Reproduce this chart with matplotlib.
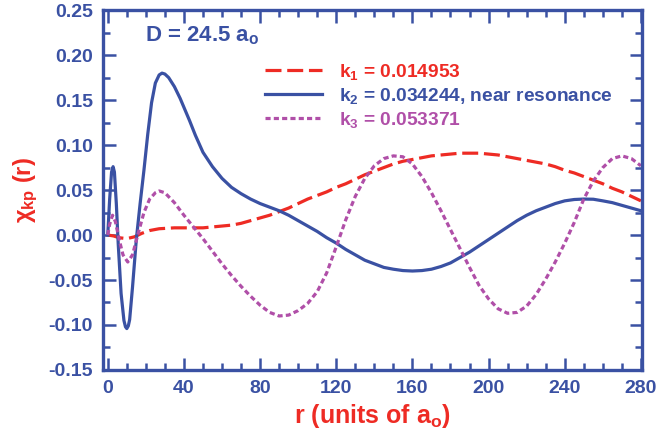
import numpy as np
import matplotlib
matplotlib.use("Agg")
import matplotlib.pyplot as plt
from matplotlib.ticker import MultipleLocator

plt.rcParams['font.family'] = ['Liberation Sans', 'DejaVu Sans']
plt.rcParams['font.weight'] = 'bold'
plt.rcParams['mathtext.fontset'] = 'custom'
plt.rcParams['mathtext.rm'] = 'Liberation Sans:bold'
plt.rcParams['mathtext.bf'] = 'Liberation Sans:bold'
plt.rcParams['mathtext.it'] = 'Liberation Sans:bold'

# values
r_k1 = [0, 3, 6, 10, 14, 18, 22, 27, 35, 45, 50, 55, 60, 65, 70, 75, 80, 85, 90, 95,
        100, 105, 110, 115, 120, 125, 130, 135, 140, 145, 150, 155, 160, 165, 170, 175,
        180, 185, 190, 195, 200, 205, 210, 215, 220, 225, 230, 235, 240, 245, 250, 255,
        260, 265, 270, 275, 280]
chi_k1 = [0, -0.001, -0.003, -0.004, -0.002, 0.002, 0.005, 0.007, 0.008, 0.008, 0.008,
          0.009, 0.010, 0.011, 0.013, 0.016, 0.019, 0.022, 0.026, 0.030, 0.035, 0.040,
          0.044, 0.048, 0.053, 0.057, 0.062, 0.067, 0.071, 0.075, 0.079, 0.082, 0.084,
          0.086, 0.088, 0.089, 0.090, 0.091, 0.091, 0.091, 0.090, 0.089, 0.087, 0.085,
          0.083, 0.081, 0.079, 0.076, 0.072, 0.069, 0.065, 0.061, 0.057, 0.052, 0.048,
          0.043, 0.038]

r_k2 = [0, 1, 2, 2.8, 3.5, 4.5, 5.5, 7, 8.5, 9.3, 10, 10.8, 11.5, 13, 15, 17, 19, 21,
        23, 25, 27, 28.5, 30, 32, 35, 38, 40, 43, 46, 50, 55, 60, 65, 70, 75, 80, 85,
        90, 95, 100, 105, 110, 115, 120, 125, 130, 135, 140, 145, 150, 155, 160, 165,
        170, 175, 180, 185, 190, 195, 200, 205, 210, 215, 220, 225, 230, 235, 240, 245,
        250, 255, 260, 265, 270, 275, 280]
chi_k2 = [0, 0.040, 0.070, 0.076, 0.070, 0.035, -0.010, -0.065, -0.095, -0.102, -0.104,
          -0.101, -0.094, -0.058, -0.005, 0.035, 0.072, 0.112, 0.147, 0.169, 0.178,
          0.180, 0.179, 0.175, 0.165, 0.152, 0.142, 0.127, 0.111, 0.092, 0.076, 0.063,
          0.053, 0.046, 0.040, 0.035, 0.031, 0.027, 0.022, 0.016, 0.010, 0.004, -0.003,
          -0.009, -0.016, -0.022, -0.028, -0.032, -0.036, -0.038, -0.0395, -0.040,
          -0.0395, -0.038, -0.035, -0.031, -0.025, -0.019, -0.012, -0.005, 0.002, 0.009,
          0.016, 0.022, 0.027, 0.031, 0.035, 0.038, 0.0395, 0.040, 0.0398, 0.038, 0.036,
          0.033, 0.030, 0.027]

r_k3 = [0, 1, 2.5, 4, 6, 8, 10.5, 13, 16, 19, 22, 25, 27, 30, 35, 40, 45, 50, 55, 60,
        65, 70, 75, 80, 85, 90, 95, 100, 105, 110, 115, 120, 125, 130, 135, 140, 145,
        150, 155, 160, 165, 170, 175, 180, 185, 190, 195, 200, 205, 210, 215, 220, 225,
        230, 235, 240, 245, 250, 255, 260, 265, 270, 275, 280]
chi_k3 = [0, 0.012, 0.022, 0.015, -0.005, -0.022, -0.030, -0.022, 0.002, 0.025, 0.040,
          0.047, 0.049, 0.047, 0.036, 0.022, 0.009, -0.004, -0.018, -0.032, -0.045,
          -0.057, -0.068, -0.078, -0.086, -0.090, -0.089, -0.084, -0.076, -0.063,
          -0.042, -0.013, 0.017, 0.043, 0.063, 0.077, 0.085, 0.088, 0.087, 0.079, 0.065,
          0.047, 0.027, 0.006, -0.015, -0.036, -0.056, -0.071, -0.082, -0.087, -0.086,
          -0.079, -0.066, -0.049, -0.030, -0.009, 0.014, 0.040, 0.060, 0.075, 0.085,
          0.088, 0.085, 0.077]

labels = [r'k$_1$ = 0.014953', r'k$_2$ = 0.034244, near resonance', r'k$_3$ = 0.053371']

blue = '#3A51A3'
red = '#EE2B24'
magenta = '#B04FA8'

fig = plt.figure(figsize=(6.59, 4.42), dpi=100)
ax = fig.add_axes([0.156, 0.163, 0.818, 0.814])

ax.plot(r_k1, chi_k1, color=red, lw=2.3, dashes=(5, 1.8), label=labels[0])
ax.plot(r_k2, chi_k2, color=blue, lw=2.3, label=labels[1])
ax.plot(r_k3, chi_k3, color=magenta, lw=2.3, dashes=(1.6, 1.0), label=labels[2])

ax.set_xlim(-2.6, 280.5)
ax.set_ylim(-0.15, 0.25)
ax.xaxis.set_major_locator(MultipleLocator(40))
ax.xaxis.set_minor_locator(MultipleLocator(10))
ax.yaxis.set_major_locator(MultipleLocator(0.05))
ax.yaxis.set_minor_locator(MultipleLocator(0.025))
ax.yaxis.set_major_formatter(matplotlib.ticker.FormatStrFormatter('%.2f'))

for s in ax.spines.values():
    s.set_color(blue)
    s.set_linewidth(2.4)
ax.tick_params(which='both', direction='in', top=True, right=True, color=blue, width=1.8)
ax.tick_params(which='major', length=9, labelsize=14, labelcolor=blue, pad=7)
ax.tick_params(which='minor', length=5)
for t in ax.get_xticklabels() + ax.get_yticklabels():
    t.set_fontweight('bold')

ax.set_xlabel(r'r (units of a$_\mathregular{o}$)', color=red, fontsize=18, fontweight='bold', labelpad=4)
ax.set_ylabel(r'$\chi_{\mathrm{kp}}$ (r)', color=red, fontsize=17, fontweight='bold', labelpad=6)

ax.text(0.078, 0.93, r'D = 24.5 a$_\mathregular{o}$', transform=ax.transAxes, color=blue,
        fontsize=16, fontweight='bold', va='center')

leg = ax.legend(loc='upper left', bbox_to_anchor=(0.3, 0.857), frameon=False, fontsize=13.8,
                handlelength=3.0, handletextpad=0.9, labelspacing=0.22, borderpad=0,
                borderaxespad=0, labelcolor='linecolor')

fig.savefig('out.png', dpi=100)
